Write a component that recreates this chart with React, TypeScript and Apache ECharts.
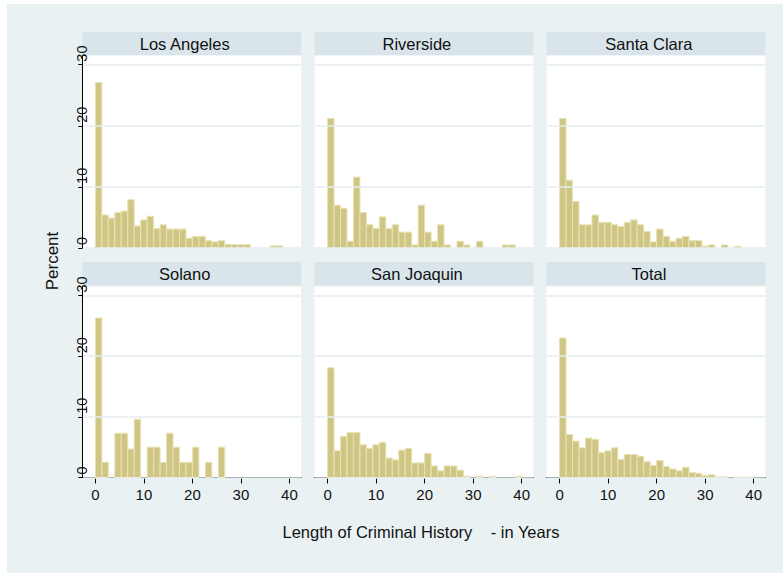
import React, { useEffect, useRef } from "react";
import * as echarts from "echarts";

// ---- data ----
const panelTitles = ["Los Angeles", "Riverside", "Santa Clara", "Solano", "San Joaquin", "Total"];
const binStart = 0;
const binWidth = 4 / 3;
const losAngeles = [27.1, 5.4, 4.9, 5.8, 6.05, 7.9, 3.6, 4.6, 5.2, 3.2, 3.8, 3.1, 3.1, 3.1, 1.6, 1.9, 1.9, 1.2, 1.0, 1.2, 0.55, 0.55, 0.55, 0.55, 0, 0, 0, 0.35, 0.35, 0];
const riverside = [21.2, 7.0, 6.5, 1.1, 11.6, 5.8, 3.8, 3.2, 5.1, 3.2, 3.8, 2.6, 2.6, 0.5, 7.0, 2.6, 1.1, 3.8, 0.5, 0, 1.1, 0.5, 0, 1.1, 0, 0, 0, 0.5, 0.5, 0];
const santaClara = [21.2, 11.1, 7.6, 3.8, 3.8, 5.4, 4.2, 4.2, 3.8, 3.5, 4.2, 4.6, 3.8, 2.7, 1.0, 3.1, 1.9, 1.1, 1.6, 1.9, 1.2, 1.2, 0.3, 0.5, 0, 0.5, 0, 0.3, 0, 0];
const solano = [26.3, 2.5, 0, 7.3, 7.3, 4.7, 9.6, 0, 5.0, 5.0, 2.5, 7.3, 5.0, 2.5, 2.5, 5.0, 0, 2.5, 0, 5.0, 0, 0, 0, 0, 0, 0, 0, 0, 0, 0];
const sanJoaquin = [18.1, 4.4, 6.8, 7.4, 7.4, 5.4, 4.8, 5.4, 5.8, 3.2, 2.9, 4.5, 4.8, 2.4, 2.4, 4.0, 1.9, 1.1, 1.9, 1.9, 1.2, 0.2, 0, 0.2, 0, 0.2, 0, 0, 0, 0.2];
const total = [23.0, 7.1, 6.0, 4.9, 6.5, 6.3, 4.1, 4.4, 4.9, 3.0, 3.8, 3.8, 3.5, 2.6, 2.0, 2.8, 1.8, 1.4, 1.1, 1.7, 0.8, 0.7, 0.3, 0.45, 0.1, 0.1, 0, 0.05, 0.05, 0.05];
const panelValues = [losAngeles, riverside, santaClara, solano, sanJoaquin, total];
const xTicks = [0, 10, 20, 30, 40];
const yTicks = [0, 10, 20, 30];
const xTitle = "Length of Criminal History    - in Years";
const yTitle = "Percent";

// ---- layout / style ----
const FONT = "'Liberation Sans', Arial, sans-serif";
const colLeft = [82.3, 314.5, 546.5];
const colWidth = 218.8;
const headerTop = [32, 262];
const headerH = 23.5;
const titleShift = -7;
const plotTop = [55.5, 286.5];
const plotH = [192.5, 191];
const xMin = -2.7;
const xMax = 42.4;
const yMax = 31.5;
const BAR_FILL = "#cfc685";
const BAR_STROKE = "#e9e3b4";
const HEADER_BG = "#d9e5ea";
const OUTER_BG = "#e9f1f3";
const GRID_LINE = "#e6eef1";

function buildOption() {
  const grid: any[] = [];
  const xAxis: any[] = [];
  const yAxis: any[] = [];
  const series: any[] = [];
  const elements: any[] = [];

  panelValues.forEach((vals, i) => {
    const r = Math.floor(i / 3);
    const c = i % 3;
    grid.push({
      left: colLeft[c],
      top: plotTop[r],
      width: colWidth,
      height: plotH[r],
      show: true,
      backgroundColor: "#ffffff",
      borderWidth: 0,
      containLabel: false,
    });
    xAxis.push({
      type: "value",
      gridIndex: i,
      min: xMin,
      max: xMax,
      axisLine: { show: r === 1, onZero: false, lineStyle: { color: "#000", width: 1 } },
      axisTick: { show: r === 1, length: 6, customValues: xTicks, lineStyle: { color: "#000", width: 1 } },
      axisLabel: {
        show: r === 1,
        customValues: xTicks,
        fontSize: 15,
        color: "#111",
        fontFamily: FONT,
        margin: 9,
      },
      splitLine: { show: false },
    });
    yAxis.push({
      type: "value",
      gridIndex: i,
      min: 0,
      max: yMax,
      interval: 10,
      z: 5,
      axisLine: { show: c === 0, onZero: false, lineStyle: { color: "#000", width: 1 } },
      axisTick: { show: c === 0, length: 4, customValues: yTicks, lineStyle: { color: "#000", width: 1 } },
      axisLabel: {
        show: c === 0,
        customValues: yTicks,
        rotate: 90,
        align: "left",
        verticalAlign: "middle",
        margin: 0,
        padding: [0, 0, 0, 3],
        fontSize: 14.5,
        color: "#111",
        fontFamily: FONT,
      },
      splitLine: { show: true, lineStyle: { color: GRID_LINE, width: 1.5 } },
    });
    const data = vals
      .map((v, k) => [binStart + k * binWidth, binStart + (k + 1) * binWidth, v])
      .filter((d) => d[2] > 0);
    series.push({
      type: "custom",
      xAxisIndex: i,
      yAxisIndex: i,
      data,
      encode: { x: [0, 1], y: 2 },
      renderItem: (_params: any, api: any) => {
        const p0 = api.coord([api.value(0), api.value(2)]);
        const p1 = api.coord([api.value(1), 0]);
        return {
          type: "rect",
          shape: { x: p0[0], y: p0[1], width: p1[0] - p0[0], height: p1[1] - p0[1] },
          style: { fill: BAR_FILL, stroke: BAR_STROKE, lineWidth: 1 },
        };
      },
    });
    elements.push({
      type: "rect",
      z: -10,
      shape: { x: colLeft[c], y: headerTop[r], width: colWidth, height: headerH },
      style: { fill: HEADER_BG },
    });
    elements.push({
      type: "text",
      z: -9,
      x: colLeft[c] + colWidth / 2 + titleShift,
      y: headerTop[r] + headerH / 2,
      style: {
        text: panelTitles[i],
        fontSize: 16.5,
        fontFamily: FONT,
        fill: "#111",
        align: "center",
        verticalAlign: "middle",
      },
    });
  });

  elements.push({
    type: "text",
    z: 101,
    x: 52,
    y: 261,
    rotation: Math.PI / 2,
    style: {
      text: yTitle,
      fontSize: 17,
      fontFamily: FONT,
      fill: "#111",
      align: "center",
      verticalAlign: "middle",
    },
  });
  elements.push({
    type: "text",
    z: 101,
    x: 421,
    y: 532,
    style: {
      text: xTitle,
      fontSize: 16.5,
      fontFamily: FONT,
      fill: "#111",
      align: "center",
      verticalAlign: "middle",
    },
  });

  return {
    animation: false,
    backgroundColor: "transparent",
    grid,
    xAxis,
    yAxis,
    series,
    graphic: { elements },
  };
}

export default function App() {
  const ref = useRef<HTMLDivElement>(null);
  useEffect(() => {
    if (!ref.current) return;
    const chart = echarts.init(ref.current, undefined, { renderer: "svg" });
    chart.setOption(buildOption() as any);
    return () => chart.dispose();
  }, []);
  return (
    <div style={{ position: "absolute", left: 0, top: 0, width: 783, height: 573, background: "#ffffff" }}>
      <div style={{ position: "absolute", left: 7, top: 4, right: 0, bottom: 0, background: OUTER_BG }} />
      <div ref={ref} style={{ position: "absolute", left: 0, top: 0, width: 783, height: 573 }} />
    </div>
  );
}
